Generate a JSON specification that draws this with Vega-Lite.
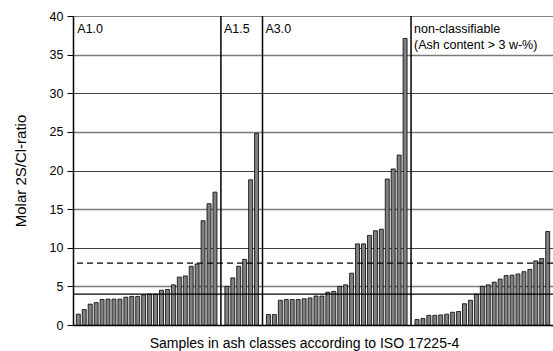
{
  "$schema": "https://vega.github.io/schema/vega-lite/v6.json",
  "width": 480,
  "height": 309,
  "autosize": {"type": "none"},
  "padding": {"left": 73, "top": 16, "right": 0, "bottom": 26},
  "background": "white",
  "config": {
    "view": {"stroke": null},
    "font": "Liberation Sans",
    "axis": {"labelFont": "Liberation Sans", "titleFont": "Liberation Sans", "titleFontWeight": "normal"}
  },
  "datasets": {
    "samples": [
      {"slot": 1, "ashClass": "A1.0", "ratio": 1.4},
      {"slot": 2, "ashClass": "A1.0", "ratio": 2.0},
      {"slot": 3, "ashClass": "A1.0", "ratio": 2.7},
      {"slot": 4, "ashClass": "A1.0", "ratio": 2.9},
      {"slot": 5, "ashClass": "A1.0", "ratio": 3.3},
      {"slot": 6, "ashClass": "A1.0", "ratio": 3.35},
      {"slot": 7, "ashClass": "A1.0", "ratio": 3.35},
      {"slot": 8, "ashClass": "A1.0", "ratio": 3.35},
      {"slot": 9, "ashClass": "A1.0", "ratio": 3.6},
      {"slot": 10, "ashClass": "A1.0", "ratio": 3.7},
      {"slot": 11, "ashClass": "A1.0", "ratio": 3.7},
      {"slot": 12, "ashClass": "A1.0", "ratio": 3.9},
      {"slot": 13, "ashClass": "A1.0", "ratio": 4.0},
      {"slot": 14, "ashClass": "A1.0", "ratio": 4.0},
      {"slot": 15, "ashClass": "A1.0", "ratio": 4.5},
      {"slot": 16, "ashClass": "A1.0", "ratio": 4.6},
      {"slot": 17, "ashClass": "A1.0", "ratio": 5.2},
      {"slot": 18, "ashClass": "A1.0", "ratio": 6.2},
      {"slot": 19, "ashClass": "A1.0", "ratio": 6.35},
      {"slot": 20, "ashClass": "A1.0", "ratio": 7.6},
      {"slot": 21, "ashClass": "A1.0", "ratio": 7.9},
      {"slot": 22, "ashClass": "A1.0", "ratio": 13.5},
      {"slot": 23, "ashClass": "A1.0", "ratio": 15.7},
      {"slot": 24, "ashClass": "A1.0", "ratio": 17.2},
      {"slot": 26, "ashClass": "A1.5", "ratio": 5.0},
      {"slot": 27, "ashClass": "A1.5", "ratio": 6.1},
      {"slot": 28, "ashClass": "A1.5", "ratio": 7.6},
      {"slot": 29, "ashClass": "A1.5", "ratio": 8.5},
      {"slot": 30, "ashClass": "A1.5", "ratio": 18.8},
      {"slot": 31, "ashClass": "A1.5", "ratio": 24.8},
      {"slot": 33, "ashClass": "A3.0", "ratio": 1.35},
      {"slot": 34, "ashClass": "A3.0", "ratio": 1.35},
      {"slot": 35, "ashClass": "A3.0", "ratio": 3.2},
      {"slot": 36, "ashClass": "A3.0", "ratio": 3.3},
      {"slot": 37, "ashClass": "A3.0", "ratio": 3.3},
      {"slot": 38, "ashClass": "A3.0", "ratio": 3.3},
      {"slot": 39, "ashClass": "A3.0", "ratio": 3.4},
      {"slot": 40, "ashClass": "A3.0", "ratio": 3.5},
      {"slot": 41, "ashClass": "A3.0", "ratio": 3.75},
      {"slot": 42, "ashClass": "A3.0", "ratio": 3.75},
      {"slot": 43, "ashClass": "A3.0", "ratio": 4.25},
      {"slot": 44, "ashClass": "A3.0", "ratio": 4.35},
      {"slot": 45, "ashClass": "A3.0", "ratio": 5.0},
      {"slot": 46, "ashClass": "A3.0", "ratio": 5.2},
      {"slot": 47, "ashClass": "A3.0", "ratio": 6.7},
      {"slot": 48, "ashClass": "A3.0", "ratio": 10.5},
      {"slot": 49, "ashClass": "A3.0", "ratio": 10.5},
      {"slot": 50, "ashClass": "A3.0", "ratio": 11.6},
      {"slot": 51, "ashClass": "A3.0", "ratio": 12.2},
      {"slot": 52, "ashClass": "A3.0", "ratio": 12.4},
      {"slot": 53, "ashClass": "A3.0", "ratio": 18.9},
      {"slot": 54, "ashClass": "A3.0", "ratio": 20.2},
      {"slot": 55, "ashClass": "A3.0", "ratio": 22.0},
      {"slot": 56, "ashClass": "A3.0", "ratio": 37.1},
      {"slot": 58, "ashClass": "non-classifiable", "ratio": 0.7},
      {"slot": 59, "ashClass": "non-classifiable", "ratio": 0.85},
      {"slot": 60, "ashClass": "non-classifiable", "ratio": 1.25},
      {"slot": 61, "ashClass": "non-classifiable", "ratio": 1.25},
      {"slot": 62, "ashClass": "non-classifiable", "ratio": 1.3},
      {"slot": 63, "ashClass": "non-classifiable", "ratio": 1.4},
      {"slot": 64, "ashClass": "non-classifiable", "ratio": 1.65},
      {"slot": 65, "ashClass": "non-classifiable", "ratio": 1.75},
      {"slot": 66, "ashClass": "non-classifiable", "ratio": 2.75},
      {"slot": 67, "ashClass": "non-classifiable", "ratio": 3.2},
      {"slot": 68, "ashClass": "non-classifiable", "ratio": 4.0},
      {"slot": 69, "ashClass": "non-classifiable", "ratio": 5.0},
      {"slot": 70, "ashClass": "non-classifiable", "ratio": 5.2},
      {"slot": 71, "ashClass": "non-classifiable", "ratio": 5.55},
      {"slot": 72, "ashClass": "non-classifiable", "ratio": 5.95},
      {"slot": 73, "ashClass": "non-classifiable", "ratio": 6.4},
      {"slot": 74, "ashClass": "non-classifiable", "ratio": 6.45},
      {"slot": 75, "ashClass": "non-classifiable", "ratio": 6.6},
      {"slot": 76, "ashClass": "non-classifiable", "ratio": 6.9},
      {"slot": 77, "ashClass": "non-classifiable", "ratio": 7.2},
      {"slot": 78, "ashClass": "non-classifiable", "ratio": 8.3},
      {"slot": 79, "ashClass": "non-classifiable", "ratio": 8.6},
      {"slot": 80, "ashClass": "non-classifiable", "ratio": 12.1}
    ],
    "limits": [
      {"level": 4, "kind": "solid"},
      {"level": 8, "kind": "dashed"}
    ],
    "dividers": [
      {"slot": 25},
      {"slot": 32},
      {"slot": 57}
    ],
    "firstLabel": [
      {"slot": 1, "label": "A1.0", "top": 39.15}
    ],
    "classLabels": [
      {"slot": 25, "label": "A1.5", "top": 39.15},
      {"slot": 32, "label": "A3.0", "top": 39.15},
      {"slot": 57, "label": "non-classifiable\n(Ash content > 3 w-%)", "top": 39.15}
    ]
  },
  "layer": [
    {
      "data": {"name": "samples"},
      "mark": {"type": "bar", "fill": "#808080", "stroke": "#000000", "strokeWidth": 0.8},
      "encoding": {
        "x": {
          "field": "slot",
          "type": "ordinal",
          "scale": {
            "domain": [1,2,3,4,5,6,7,8,9,10,11,12,13,14,15,16,17,18,19,20,21,22,23,24,25,26,27,28,29,30,31,32,33,34,35,36,37,38,39,40,41,42,43,44,45,46,47,48,49,50,51,52,53,54,55,56,57,58,59,60,61,62,63,64,65,66,67,68,69,70,71,72,73,74,75,76,77,78,79,80],
            "paddingInner": 0.33,
            "paddingOuter": 0.56
          },
          "axis": {
            "title": "Samples in  ash classes according to ISO 17225-4",
            "titleFontSize": 14,
            "titleColor": "#000000",
            "titlePadding": 11,
            "titleX": 231,
            "labels": false,
            "ticks": false,
            "domainColor": "#000000",
            "domainWidth": 1.5
          }
        },
        "y": {
          "field": "ratio",
          "type": "quantitative",
          "scale": {"domain": [0, 40], "nice": false},
          "axis": {
            "title": "Molar 2S/Cl-ratio",
            "titleFontSize": 15,
            "titleColor": "#000000",
            "titlePadding": 21,
            "values": [0, 5, 10, 15, 20, 25, 30, 35, 40],
            "tickCount": 12,
            "labelOverlap": false,
            "labelFontSize": 12.5,
            "labelColor": "#000000",
            "labelPadding": 4,
            "tickSize": 6,
            "tickColor": "#000000",
            "domainColor": "#000000",
            "domainWidth": 1.5,
            "grid": true,
            "gridOpacity": 1,
            "gridColor": {"condition": {"test": "datum.value % 10 === 5", "value": "#7a7a7a"}, "value": "#000000"},
            "gridWidth": {"condition": {"test": "datum.value % 10 === 5", "value": 1.6}, "value": 1},
            "gridDash": {"condition": {"test": "datum.value === 40", "value": [1, 1]}, "value": [1, 0]}
          }
        }
      }
    },
    {
      "data": {"name": "limits"},
      "mark": {"type": "rule", "color": "#000000", "strokeWidth": 1.2},
      "encoding": {
        "y": {"field": "level", "type": "quantitative"},
        "strokeDash": {
          "field": "kind",
          "type": "nominal",
          "scale": {"domain": ["solid", "dashed"], "range": [[1, 0], [6, 4]]},
          "legend": null
        }
      }
    },
    {
      "data": {"name": "dividers"},
      "mark": {"type": "rule", "color": "#000000", "strokeWidth": 1.5},
      "encoding": {
        "x": {"field": "slot", "type": "ordinal"}
      }
    },
    {
      "data": {"name": "firstLabel"},
      "mark": {"type": "text", "align": "left", "baseline": "top", "dx": -1, "fontSize": 12.5, "color": "#000000"},
      "encoding": {
        "x": {"field": "slot", "type": "ordinal"},
        "y": {"field": "top", "type": "quantitative"},
        "text": {"field": "label"}
      }
    },
    {
      "data": {"name": "classLabels"},
      "mark": {"type": "text", "align": "left", "baseline": "top", "dx": 3, "fontSize": 12.5, "lineBreak": "\n", "lineHeight": 16, "color": "#000000"},
      "encoding": {
        "x": {"field": "slot", "type": "ordinal"},
        "y": {"field": "top", "type": "quantitative"},
        "text": {"field": "label"}
      }
    }
  ]
}
